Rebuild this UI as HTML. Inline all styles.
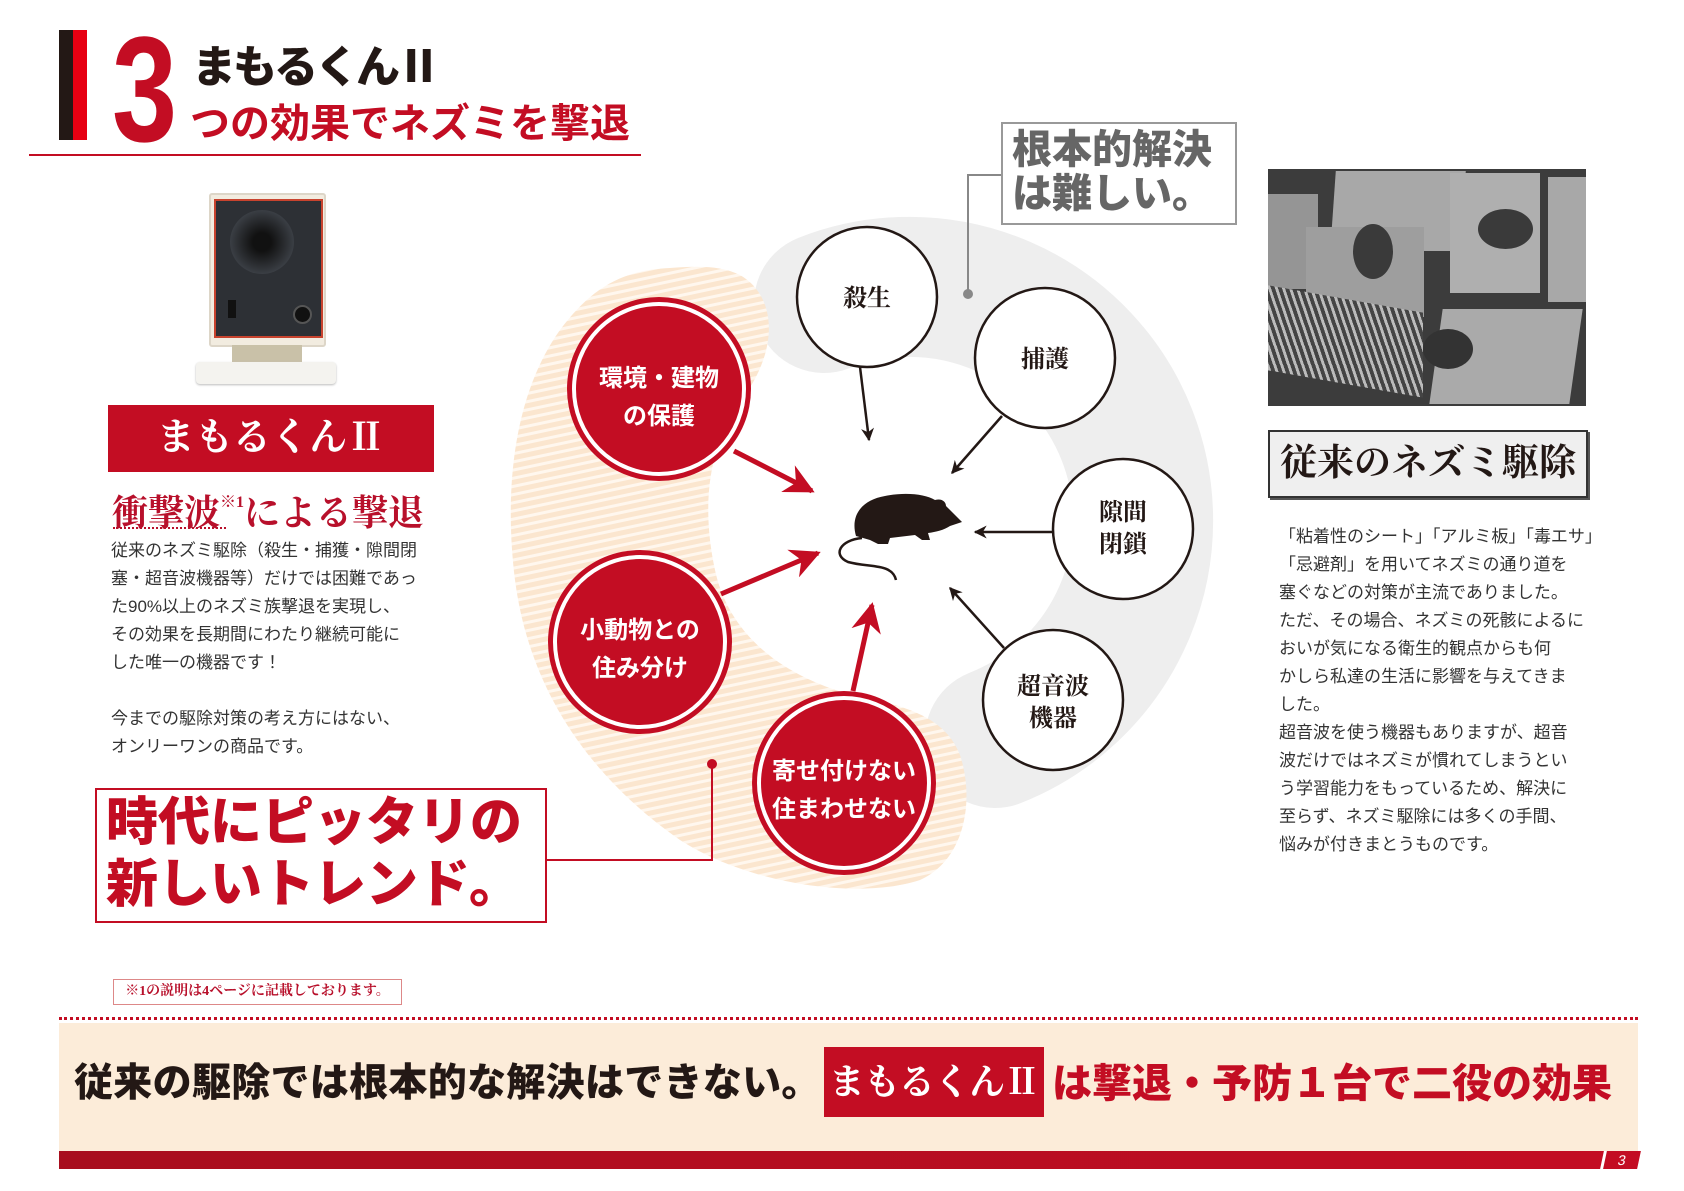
<!DOCTYPE html>
<html><head><meta charset="utf-8"><style>
body{margin:0;width:1684px;height:1191px;position:relative;background:#fff;overflow:hidden;font-family:"Liberation Sans","Noto Sans CJK JP",sans-serif}
.a{position:absolute;white-space:nowrap}
.g{font-family:"Liberation Sans","Noto Sans CJK JP",sans-serif}
.s{font-family:"Liberation Serif","Noto Serif CJK SC",serif}
.t{font-size:17px;line-height:28px;color:#333}
</style></head><body>
<!-- title -->
<div class="a" style="left:59px;top:30px;width:14px;height:110px;background:#231815"></div>
<div class="a" style="left:73px;top:30px;width:14px;height:110px;background:#e60012"></div>
<div class="a" style="left:112px;top:14px;font-size:150px;font-weight:900;color:#c30d23;line-height:150px;font-family:'Liberation Sans',sans-serif;transform:scaleX(0.78);transform-origin:left">3</div>
<div class="a" style="left:192px;top:40px;font-size:44px;font-weight:900;color:#231815;line-height:56px;letter-spacing:-3px">まもるくんⅡ</div>
<div class="a" style="left:190px;top:100px;font-size:40px;font-weight:700;color:#c30d23;line-height:48px">つの効果でネズミを撃退</div>
<div class="a" style="left:29px;top:154px;width:612px;height:2px;background:#c30d23"></div>
<!-- product -->
<div class="a" style="left:209px;top:193px;width:113px;height:150px;background:#f2ece0;border:2px solid #ddd6c8;border-radius:3px"></div>
<div class="a" style="left:214px;top:199px;width:105px;height:135px;background:#2d3035;border:2px solid #c8432e"></div>
<div class="a" style="left:230px;top:210px;width:64px;height:64px;border-radius:50%;background:radial-gradient(circle,#111 20%,#3a3e44 70%,#2a2d31)"></div>
<div class="a" style="left:293px;top:305px;width:15px;height:15px;border-radius:50%;background:#111;border:2px solid #555"></div>
<div class="a" style="left:228px;top:300px;width:8px;height:18px;background:#111"></div>
<div class="a" style="left:232px;top:345px;width:70px;height:22px;background:#c9c1a8"></div>
<div class="a" style="left:196px;top:362px;width:140px;height:22px;background:#f4f3ef;border-radius:4px;box-shadow:0 1px 2px #bbb"></div>
<!-- left red box -->
<div class="a s" style="left:108px;top:405px;width:326px;height:67px;background:#c30d23;color:#fff;font-size:38px;font-weight:700;line-height:67px;text-align:center">まもるくんⅡ</div>
<div class="a s" style="left:112px;top:480px;font-size:36px;font-weight:700;color:#b8102b;line-height:46px">衝撃波<span style="font-size:16px;vertical-align:18px">※1</span>による撃退</div>
<div class="a" style="left:113px;top:527px;width:113px;border-top:2px dotted #b8102b"></div>
<div class="a t" style="left:111px;top:537px">従来のネズミ駆除（殺生・捕獲・隙間閉<br>塞・超音波機器等）だけでは困難であっ<br>た90%以上のネズミ族撃退を実現し、<br>その効果を長期間にわたり継続可能に<br>した唯一の機器です！<br><br>今までの駆除対策の考え方にはない、<br>オンリーワンの商品です。</div>
<div class="a" style="left:95px;top:788px;width:452px;height:135px;border:2px solid #c30d23;box-sizing:border-box"></div>
<div class="a" style="left:106px;top:792px;font-size:52px;font-weight:900;color:#c30d23;line-height:62px">時代にピッタリの<br>新しいトレンド。</div>
<!-- diagram -->
<svg class="a" style="left:0;top:0" width="1684" height="1191">
<defs><pattern id="p" width="8" height="8" patternUnits="userSpaceOnUse" patternTransform="rotate(-12)"><rect width="8" height="8" fill="#fbe6cf"/><rect y="5" width="8" height="3" fill="#fff7ee"/></pattern>
<marker id="ab" viewBox="0 0 10 10" refX="9" refY="5" markerWidth="13" markerHeight="13" orient="auto" markerUnits="userSpaceOnUse"><path d="M0,0 L10,5 L0,10 L3,5z" fill="#231815"/></marker>
<marker id="ar" viewBox="0 0 10 10" refX="9" refY="5" markerWidth="30" markerHeight="30" orient="auto" markerUnits="userSpaceOnUse"><path d="M0,0 L10,5 L0,10 L3,5z" fill="#c30d23"/></marker></defs>
<path d="M824,303 A232,232 0 0 1 995,738" fill="none" stroke="#eeeeee" stroke-width="140" stroke-linecap="round"/>
<path d="M670,268 C620,270 590,290 560,330 C510,400 505,500 515,580 C528,680 580,770 680,840 C750,885 860,900 920,880 C965,860 975,800 960,755 C945,715 900,705 860,697 C790,680 730,640 715,570 C700,500 710,440 745,395 C780,345 775,295 740,275 C720,265 695,266 670,268Z" fill="url(#p)"/>
<!-- connector lines -->
<polyline points="1001,175 968,175 968,294" fill="none" stroke="#888" stroke-width="2"/><circle cx="968" cy="294" r="5" fill="#888"/>
<polyline points="547,860 712,860 712,764" fill="none" stroke="#c30d23" stroke-width="2"/><circle cx="712" cy="764" r="5" fill="#c30d23"/>
<!-- arrows -->
<g stroke="#231815" stroke-width="2.5" fill="none">
<line x1="860" y1="367" x2="869" y2="440" marker-end="url(#ab)"/>
<line x1="1002" y1="416" x2="952" y2="473" marker-end="url(#ab)"/>
<line x1="1053" y1="532" x2="975" y2="532" marker-end="url(#ab)"/>
<line x1="1004" y1="648" x2="950" y2="588" marker-end="url(#ab)"/>
</g>
<g stroke="#c30d23" stroke-width="5" fill="none">
<line x1="734" y1="451" x2="812" y2="491" marker-end="url(#ar)"/>
<line x1="721" y1="594" x2="818" y2="553" marker-end="url(#ar)"/>
<line x1="853" y1="691" x2="872" y2="605" marker-end="url(#ar)"/>
</g>
<!-- white circles -->
<g fill="#fff" stroke="#231815" stroke-width="2.5">
<circle cx="867" cy="297" r="70"/><circle cx="1045" cy="358" r="70"/>
<circle cx="1123" cy="529" r="70"/><circle cx="1053" cy="700" r="70"/></g>
<!-- red circles -->
<g><circle cx="659" cy="389" r="92" fill="#c30d23"/><circle cx="659" cy="389" r="85" fill="none" stroke="#fff" stroke-width="4"/>
<circle cx="640" cy="642" r="92" fill="#c30d23"/><circle cx="640" cy="642" r="85" fill="none" stroke="#fff" stroke-width="4"/>
<circle cx="844" cy="783" r="92" fill="#c30d23"/><circle cx="844" cy="783" r="85" fill="none" stroke="#fff" stroke-width="4"/></g>
<!-- mouse -->
<g fill="#231815"><path d="M856,536 C850,515 862,500 885,496 C905,492 925,494 935,500 C942,498 946,502 946,506 L962,522 L950,526 C944,530 936,532 928,533 L930,540 L922,540 L915,535 L890,538 L888,544 L878,544 L870,540 Z"/>
<path d="M862,538 C840,540 832,555 848,562 C870,568 892,563 896,580" fill="none" stroke="#231815" stroke-width="2.5"/></g>
<!-- labels -->
<g font-family="Liberation Serif,Noto Serif CJK SC,serif" font-weight="700" font-size="24" fill="#231815" text-anchor="middle">
<text x="867" y="306">殺生</text><text x="1045" y="367">捕護</text>
<text x="1123" y="520">隙間</text><text x="1123" y="552">閉鎖</text>
<text x="1053" y="694">超音波</text><text x="1053" y="726">機器</text></g>
<g font-family="Liberation Sans,Noto Sans CJK JP,sans-serif" font-weight="700" font-size="24" fill="#fff" text-anchor="middle">
<text x="659" y="386">環境・建物</text><text x="659" y="424">の保護</text>
<text x="640" y="638">小動物との</text><text x="640" y="676">住み分け</text>
<text x="844" y="779">寄せ付けない</text><text x="844" y="817">住まわせない</text></g>
</svg>
<div class="a" style="left:1001px;top:122px;width:236px;height:103px;border:2px solid #999;box-sizing:border-box;background:#fff"></div>
<div class="a" style="left:1012px;top:128px;font-size:40px;font-weight:900;color:#666;line-height:44px">根本的解決<br>は難しい。</div>
<!-- photo -->
<div class="a" style="left:1268px;top:169px;width:318px;height:237px;background:#3c3c3c;overflow:hidden">
<div class="a" style="left:65px;top:2px;width:130px;height:80px;background:#a8a8a8;transform:skewX(-4deg)"></div>
<div class="a" style="left:0;top:25px;width:50px;height:95px;background:#959595"></div>
<div class="a" style="left:38px;top:58px;width:118px;height:90px;background:#9e9e9e"></div>
<div class="a" style="left:182px;top:4px;width:90px;height:120px;background:#afafaf"></div>
<div class="a" style="left:280px;top:8px;width:40px;height:125px;background:#a8a8a8"></div>
<div class="a" style="left:168px;top:140px;width:140px;height:95px;background:#aaa;transform:skewX(-8deg)"></div>
<div class="a" style="left:0;top:130px;width:155px;height:85px;background:repeating-linear-gradient(70deg,#bbb 0 3px,#444 3px 7px);transform:skewY(10deg)"></div>
<div class="a" style="left:85px;top:55px;width:40px;height:55px;border-radius:50%;background:#3a3a3a"></div>
<div class="a" style="left:210px;top:40px;width:55px;height:40px;border-radius:50%;background:#3a3a3a"></div>
<div class="a" style="left:155px;top:160px;width:50px;height:40px;border-radius:50%;background:#333"></div>
</div>
<div class="a s" style="left:1268px;top:430px;width:320px;height:68px;border:2px solid #333;box-sizing:border-box;background:#efefef;box-shadow:2px 2px 0 #555;font-size:37px;font-weight:700;color:#231815;line-height:64px;text-align:center">従来のネズミ駆除</div>
<div class="a t" style="left:1279px;top:523px">「粘着性のシート」「アルミ板」「毒エサ」<br>「忌避剤」を用いてネズミの通り道を<br>塞ぐなどの対策が主流でありました。<br>ただ、その場合、ネズミの死骸によるに<br>おいが気になる衛生的観点からも何<br>かしら私達の生活に影響を与えてきま<br>した。<br>超音波を使う機器もありますが、超音<br>波だけではネズミが慣れてしまうとい<br>う学習能力をもっているため、解決に<br>至らず、ネズミ駆除には多くの手間、<br>悩みが付きまとうものです。</div>
<!-- footer -->
<div class="a s" style="left:113px;top:979px;width:289px;height:26px;border:1px solid #d88;box-sizing:border-box;font-size:14px;color:#b8102b;line-height:24px;text-align:center;font-weight:700">※1の説明は4ページに記載しております。</div>
<div class="a" style="left:59px;top:1017px;width:1579px;border-top:3px dotted #c30d23"></div>
<div class="a" style="left:59px;top:1023px;width:1579px;height:128px;background:#fcecd9"></div>
<div class="a" style="left:74px;top:1060px;font-size:39px;font-weight:900;color:#231815;line-height:48px;letter-spacing:0.3px">従来の駆除では根本的な解決はできない。</div>
<div class="a s" style="left:824px;top:1047px;width:220px;height:70px;background:#c30d23;color:#fff;font-size:36px;font-weight:700;line-height:70px;text-align:center;letter-spacing:-1px">まもるくんⅡ</div>
<div class="a" style="left:1052px;top:1060px;font-size:40px;font-weight:900;color:#c30d23;line-height:48px">は撃退・予防１台で二役の効果</div>
<div class="a" style="left:59px;top:1151px;width:1545px;height:18px;background:linear-gradient(90deg,#a80e1e,#c30d23)"></div>
<div class="a" style="left:1602px;top:1151px;width:34px;height:18px;background:#c30d23;transform:skewX(-12deg);color:#fff;font-size:14px;line-height:18px;text-align:center;border-left:3px solid #fff">3</div>
</body></html>
